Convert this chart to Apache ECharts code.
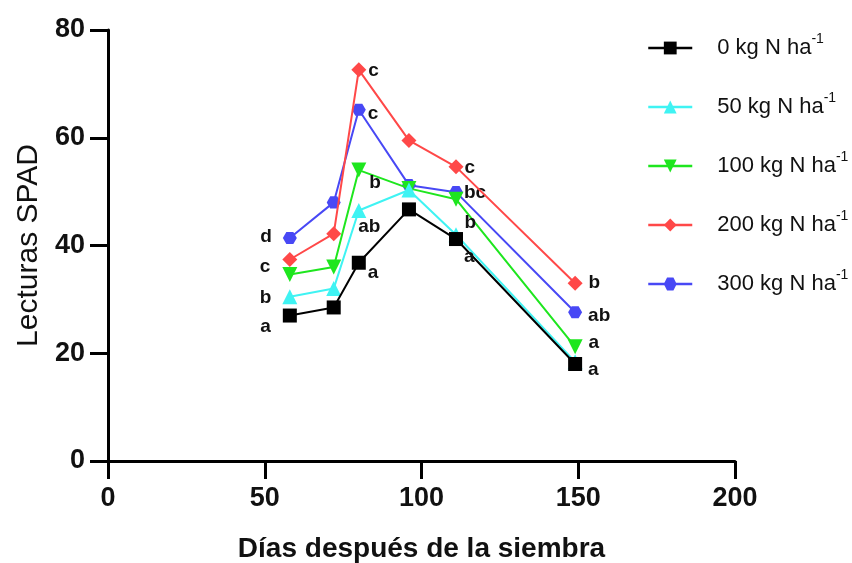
<!DOCTYPE html>
<html>
<head>
<meta charset="utf-8">
<script src="https://cdn.jsdelivr.net/npm/echarts@6/dist/echarts.min.js"></script>
<style>
  html, body { margin: 0; padding: 0; background: #fff; }
  #chart { width: 852px; height: 563px; }
</style>
</head>
<body>
<div id="chart"></div>
<script>
// days after sowing
var days = [58, 72, 80, 96, 111, 149];

var seriesNames = ['0 kg N ha', '50 kg N ha', '100 kg N ha', '200 kg N ha', '300 kg N ha'];

// SPAD readings per N rate
var spad0   = [27.0, 28.5, 36.8, 46.7, 41.2, 18.0];
var spad50  = [30.5, 32.0, 46.5, 50.3, 42.0, 18.4];
var spad100 = [34.6, 36.0, 54.0, 50.6, 48.6, 21.2];
var spad200 = [37.4, 42.2, 72.6, 59.5, 54.6, 33.0];
var spad300 = [41.4, 48.0, 65.2, 51.2, 49.9, 27.6];

// significance letters
var let0   = ['a', '', 'a', '', 'a', 'a'];
var let50  = ['b', '', 'ab', '', '', ''];
var let100 = ['', '', 'b', '', 'b', 'a'];
var let200 = ['c', '', 'c', '', 'c', 'b'];
var let300 = ['d', '', 'c', '', 'bc', 'ab'];

var yTicks = [0, 20, 40, 60, 80];
var xTicks = [0, 50, 100, 150, 200];

// where each letter sits next to its point: [position, dx, dy]
var labelPlace = [
  [['left', -10, 11], null, ['right', 0, 10], null, ['right', -1, 18], ['right', 4, 6]],
  [['left', -9, 1], null, ['right', -10, 16], null, null, null],
  [null, null, ['right', 1, 13], null, ['right', -1, 24], ['right', 4, -4]],
  [['left', -10, 7], null, ['right', 0, 1], null, ['right', -1, 1], ['right', 4, 0]],
  [['left', -9, -1], null, ['right', 0, 4], null, ['right', -1, 1], ['right', 4, 3]]
];

var hexagon = 'path://M-10,0 L-5,-8.66 L5,-8.66 L10,0 L5,8.66 L-5,8.66 Z';

var looks = [
  { color: '#000000', symbol: 'rect', rotate: 0, size: 14, z: 7 },
  { color: '#3ff3f3', symbol: 'triangle', rotate: 0, size: 15, z: 6 },
  { color: '#1ee61e', symbol: 'triangle', rotate: 180, size: 15, z: 5 },
  { color: '#ff4848', symbol: 'diamond', rotate: 0, size: 15, z: 4 },
  { color: '#4848f5', symbol: hexagon, rotate: 0, size: 14, z: 3 }
];

var allValues = [spad0, spad50, spad100, spad200, spad300];
var allLetters = [let0, let50, let100, let200, let300];

function buildData(si) {
  return days.map(function (d, i) {
    var item = { value: [d, allValues[si][i]] };
    var p = labelPlace[si][i];
    if (allLetters[si][i] && p) {
      item.label = {
        show: true,
        formatter: allLetters[si][i],
        position: p[0],
        offset: [p[1], p[2]]
      };
    }
    return item;
  });
}

var chart = echarts.init(document.getElementById('chart'));

var series = seriesNames.map(function (name, si) {
  var lk = looks[si];
  return {
    name: name,
    type: 'line',
    data: buildData(si),
    z: lk.z,
    symbol: lk.symbol,
    symbolRotate: lk.rotate,
    symbolSize: lk.size,
    symbolKeepAspect: true,
    showAllSymbol: true,
    animation: false,
    lineStyle: { color: lk.color, width: 2 },
    itemStyle: { color: lk.color, opacity: 1 },
    label: {
      show: false,
      distance: 2,
      color: '#111',
      fontFamily: 'Liberation Sans, Arial, sans-serif',
      fontWeight: 'bold',
      fontSize: 19
    },
    emphasis: { disabled: true }
  };
});

chart.setOption({
  backgroundColor: '#ffffff',
  animation: false,
  grid: { left: 108, right: 117, top: 30, bottom: 102, outerBoundsMode: 'none', containLabel: false },
  legend: {
    orient: 'vertical',
    left: 647,
    top: 32,
    padding: 0,
    itemWidth: 44,
    itemHeight: 16,
    itemGap: 32,
    lineStyle: { width: 2.5 },
    data: seriesNames,
    formatter: function (n) {
      return '{g| }{t|' + n + '}{s|-1}';
    },
    textStyle: {
      rich: {
        g: { width: 20, fontSize: 22 },
        t: { fontSize: 22, lineHeight: 32, color: '#111', fontFamily: 'Liberation Sans, Arial, sans-serif' },
        s: { fontSize: 14, lineHeight: 14, verticalAlign: 'top', color: '#111', fontFamily: 'Liberation Sans, Arial, sans-serif' }
      }
    }
  },
  xAxis: {
    type: 'value',
    min: xTicks[0],
    max: xTicks[xTicks.length - 1],
    interval: 50,
    name: 'Días después de la siembra',
    nameLocation: 'middle',
    nameGap: 74,
    nameTextStyle: { fontSize: 28, fontWeight: 'bold', color: '#111', fontFamily: 'Liberation Sans, Arial, sans-serif' },
    splitLine: { show: false },
    axisLine: { onZero: false, lineStyle: { color: '#000', width: 3 } },
    axisTick: { show: true, length: 18, lineStyle: { color: '#000', width: 3 } },
    axisLabel: { margin: 24, fontSize: 27, fontWeight: 'bold', color: '#111', fontFamily: 'Liberation Sans, Arial, sans-serif' }
  },
  yAxis: {
    type: 'value',
    min: yTicks[0],
    max: yTicks[yTicks.length - 1],
    interval: 20,
    name: 'Lecturas SPAD',
    nameLocation: 'middle',
    nameGap: 64,
    nameTextStyle: { fontSize: 30, color: '#111', fontFamily: 'Liberation Sans, Arial, sans-serif' },
    splitLine: { show: false },
    axisLine: { show: true, onZero: false, lineStyle: { color: '#000', width: 3 } },
    axisTick: { show: true, length: 18, lineStyle: { color: '#000', width: 3 } },
    axisLabel: { margin: 23, fontSize: 27, fontWeight: 'bold', color: '#111', fontFamily: 'Liberation Sans, Arial, sans-serif' }
  },
  series: series
});
</script>
</body>
</html>
